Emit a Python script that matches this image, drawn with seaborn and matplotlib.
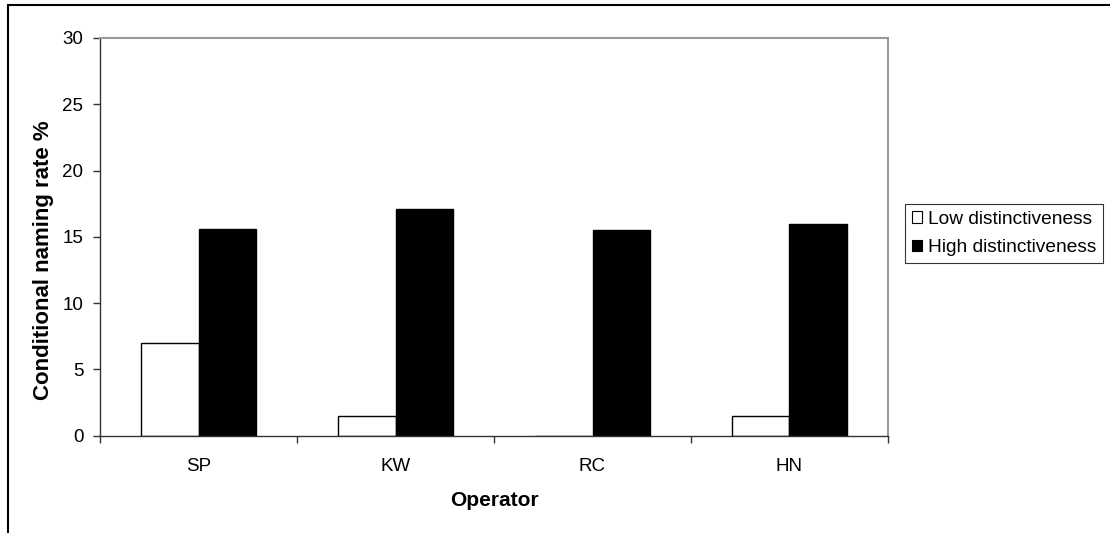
import matplotlib
matplotlib.use("Agg")
import matplotlib.pyplot as plt
from matplotlib.patches import Rectangle, Patch
import seaborn as sns
import pandas as pd
import numpy as np

operators = ["SP", "KW", "RC", "HN"]
low_vals = [7.0, 1.5, 0.0, 1.5]
high_vals = [15.6, 17.1, 15.5, 16.0]
series_names = ["Low distinctiveness", "High distinctiveness"]
y_ticks = [0, 5, 10, 15, 20, 25, 30]

df = pd.DataFrame({
    "Operator": operators * 2,
    "Rate": low_vals + high_vals,
    "Series": [series_names[0]] * 4 + [series_names[1]] * 4,
})

sns.set_theme(style="white")
plt.rcParams["font.family"] = ["Liberation Sans", "DejaVu Sans"]
plt.rcParams["text.color"] = "black"
plt.rcParams["axes.labelcolor"] = "black"
plt.rcParams["xtick.color"] = "black"
plt.rcParams["ytick.color"] = "black"

W, H = 1110, 533
fig = plt.figure(figsize=(W / 100, H / 100), dpi=100)
ax = fig.add_axes([100 / W, (H - 435.6) / H, (888 - 100) / W, (435.6 - 38) / H])

sns.barplot(data=df, x="Operator", y="Rate", hue="Series", hue_order=series_names,
            order=operators, palette={series_names[0]: "white", series_names[1]: "black"},
            edgecolor="black", linewidth=1, width=0.58, gap=0, ax=ax, legend=False,
            saturation=1)

ax.set_ylim(0, 30)
ax.set_xlim(-0.5, 3.5)
ax.set_yticks(y_ticks)
ax.set_yticklabels([str(t) for t in y_ticks], fontsize=13.5)
ax.set_xticks(range(len(operators)))
ax.set_xticklabels(operators, fontsize=13.5)
ax.set_xticks([-0.5, 0.5, 1.5, 2.5, 3.5], minor=True)
ax.tick_params(axis="x", which="major", length=0, pad=16, labelcolor="black")
ax.tick_params(axis="x", which="minor", length=5, width=1, color="#333333", direction="out", bottom=True)
ax.tick_params(axis="y", which="major", length=5, width=1, color="#333333", direction="out", left=True,
               pad=7, labelcolor="black")

for s in ["top", "right"]:
    ax.spines[s].set_color("#999999")
    ax.spines[s].set_linewidth(1.5)
for s in ["left", "bottom"]:
    ax.spines[s].set_color("#333333")
    ax.spines[s].set_linewidth(1)

ax.set_xlabel("Operator", fontsize=15, fontweight="bold", labelpad=12, color="black")
ax.set_ylabel("Conditional naming rate %", fontsize=16, fontweight="bold", color="black")
ax.yaxis.set_label_coords(-0.058, 0.442)

handles = [Patch(facecolor="white", edgecolor="black", linewidth=0.8, label=series_names[0]),
           Patch(facecolor="black", edgecolor="black", linewidth=0.8, label=series_names[1])]
leg = fig.legend(handles=handles, loc="upper left", bbox_to_anchor=(905 / W, 1 - 204 / H),
                 fontsize=13.8, frameon=True, fancybox=False, handlelength=0.55, handleheight=0.55,
                 handletextpad=0.3, borderpad=0.35, labelspacing=0.6, borderaxespad=0)
leg.get_frame().set_edgecolor("black")
leg.get_frame().set_linewidth(0.8)
for t in leg.get_texts():
    t.set_color("black")

fig.patches.append(Rectangle((8 / W, -0.1), 1.2, (H - 5) / H + 0.1, transform=fig.transFigure,
                             fill=False, edgecolor="black", linewidth=1.5, figure=fig))

fig.savefig("out.png", dpi=100)
